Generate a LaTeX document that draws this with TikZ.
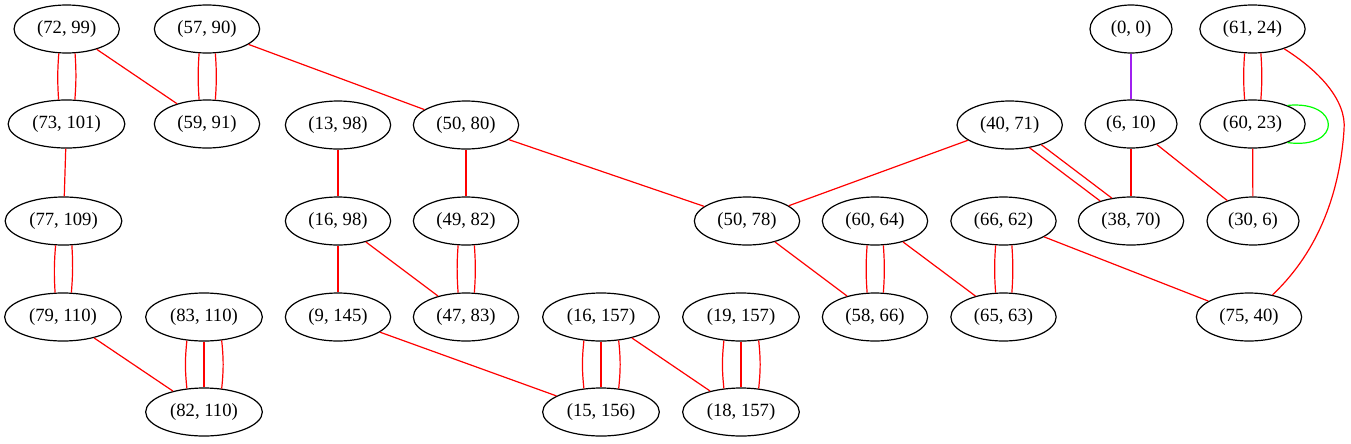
\documentclass[tikz,border=0pt]{standalone}
\usepackage{fontspec}
\setmainfont{Liberation Serif}
\usetikzlibrary{shapes.geometric}
\definecolor{gvred}{HTML}{FF0000}
\definecolor{gvpurple}{HTML}{A020F0}
\definecolor{gvgreen}{HTML}{00FF00}
\begin{document}
\begin{tikzpicture}[x=0.75pt,y=-0.75pt,
  nd/.style={ellipse,draw=black,line width=0.9pt,inner sep=0pt,minimum height=36pt,minimum width=79pt,font=\fontsize{14}{16}\selectfont},
  wide/.style={minimum width=87.5pt},
  nar/.style={minimum width=69pt},
  tiny/.style={minimum width=61.5pt},
  edge/.style={draw=gvred,line width=0.9pt},
  pedge/.style={draw=gvpurple,line width=0.9pt},
  gedge/.style={draw=gvgreen,line width=0.9pt}]
\useasboundingbox (0,0) rectangle (1351,443);
% nodes
\node[nd] (a7299) at (66.7,29) {(72, 99)};
\node[nd] (a5790) at (207,29) {(57, 90)};
\node[nd,tiny] (a0000) at (1131,29) {(0, 0)};
\node[nd] (a6124) at (1252.5,29) {(61, 24)};
\node[nd,wide] (a73101) at (66.5,124) {(73, 101)};
\node[nd] (a5991) at (207,124) {(59, 91)};
\node[nd] (a1398) at (338,125) {(13, 98)};
\node[nd] (a5080) at (466,125) {(50, 80)};
\node[nd] (a4071) at (1009.7,125) {(40, 71)};
\node[nd,nar] (a0610) at (1131,124) {(6, 10)};
\node[nd] (a6023) at (1252.5,124) {(60, 23)};
\node[nd,wide] (a77109) at (63.5,221) {(77, 109)};
\node[nd] (a1698) at (338,221) {(16, 98)};
\node[nd] (a4982) at (466,221) {(49, 82)};
\node[nd] (a5078) at (747,221) {(50, 78)};
\node[nd] (a6064) at (875,221) {(60, 64)};
\node[nd] (a6662) at (1003.5,221) {(66, 62)};
\node[nd] (a3870) at (1131,221) {(38, 70)};
\node[nd,nar] (a3006) at (1253,221) {(30, 6)};
\node[nd,wide] (a79110) at (63,317) {(79, 110)};
\node[nd,wide] (a83110) at (204,317) {(83, 110)};
\node[nd] (a09145) at (338,317) {(9, 145)};
\node[nd] (a4783) at (466,317) {(47, 83)};
\node[nd,wide] (a16157) at (601,317) {(16, 157)};
\node[nd,wide] (a19157) at (741,317) {(19, 157)};
\node[nd] (a5866) at (875,317) {(58, 66)};
\node[nd] (a6563) at (1003.5,317) {(65, 63)};
\node[nd] (a7540) at (1249,317) {(75, 40)};
\node[nd,wide] (a82110) at (204,412) {(82, 110)};
\node[nd,wide] (a15156) at (601,412) {(15, 156)};
\node[nd,wide] (a18157) at (741,412) {(18, 157)};
% double vertical edges
\foreach \t/\b in {a7299/a73101,a5790/a5991,a77109/a79110,a4982/a4783,a6064/a5866,a6662/a6563,a6124/a6023}{
  \draw[edge] (\t.-108.5) to[bend right=4] (\b.108.5);
  \draw[edge] (\t.-71.5) to[bend left=4] (\b.71.5);
}
% triple vertical edges
\foreach \t/\b in {a83110/a82110,a16157/a15156,a19157/a18157}{
  \draw[edge] (\t.-126.5) to[bend right=6] (\b.126.5);
  \draw[edge] (\t.-90) -- (\b.90);
  \draw[edge] (\t.-53.5) to[bend left=6] (\b.53.5);
}
% diagonal double edge
\draw[edge] (a4071.-49.7) -- (a3870.147.2);
\draw[edge] (a4071.-32.4) -- (a3870.130.8);
% single edges
\foreach \s/\e in {a7299/a5991,a5790/a5080,a73101/a77109,a79110/a82110,a1398/a1698,a1698/a09145,a1698/a4783,a5080/a4982,a5080/a5078,a09145/a15156,a16157/a18157,a4071/a5078,a5078/a5866,a6064/a6563,a6662/a7540,a0610/a3870,a0610/a3006,a6023/a3006}{
  \draw[edge] (\s) -- (\e);
}
\draw[pedge] (a0000) -- (a0610);
% curved edge
\draw[edge] (a6124) .. controls (1318,70) and (1347,100) .. (1344,130) .. controls (1340,190) and (1320,250) .. (a7540);
% self loop
\draw[gedge] (a6023.28) .. controls (1342,100) and (1342,150) .. (a6023.-28);
\end{tikzpicture}
\end{document}
